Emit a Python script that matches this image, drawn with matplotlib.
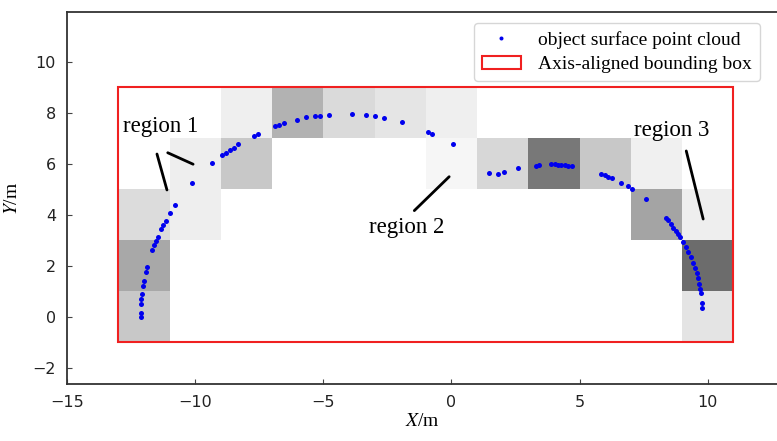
import numpy as np
import matplotlib
matplotlib.use('Agg')
import matplotlib.pyplot as plt
from matplotlib.patches import Rectangle

plt.rcParams['mathtext.fontset'] = 'stix'

# point cloud
pts_x = [-12.13, -12.13, -12.12, -12.10, -12.08, -12.03, -12.00, -11.92, -11.87,
         -11.67, -11.61, -11.54, -11.46, -11.33, -11.25, -11.15, -10.99, -10.80,
         -10.13, -9.36, -8.94, -8.78, -8.63, -8.48, -8.34, -7.71, -7.56, -6.89,
         -6.72, -6.55, -6.03, -5.69, -5.32, -5.14, -4.78, -3.88, -3.35, -2.98,
         -2.63, -1.92, -0.91, -0.75, 0.04,
         1.45, 1.80, 2.03, 2.59, 3.28, 3.41, 3.89, 4.03, 4.16, 4.29, 4.42, 4.55, 4.69,
         5.83, 5.99, 6.12, 6.27, 6.60, 6.90, 7.03, 7.60, 8.35, 8.44, 8.56, 8.65,
         8.75, 8.84, 8.91, 9.03, 9.14, 9.23, 9.33, 9.42, 9.50, 9.57, 9.62, 9.67,
         9.71, 9.74, 9.78, 9.79]
pts_y = [-0.01, 0.17, 0.52, 0.71, 0.89, 1.23, 1.42, 1.76, 1.95,
         2.63, 2.81, 2.98, 3.14, 3.46, 3.62, 3.78, 4.09, 4.40,
         5.27, 6.03, 6.35, 6.44, 6.55, 6.64, 6.77, 7.11, 7.19, 7.48,
         7.54, 7.60, 7.74, 7.83, 7.88, 7.89, 7.93, 7.95, 7.92, 7.87,
         7.82, 7.63, 7.27, 7.19, 6.77,
         5.65, 5.61, 5.69, 5.83, 5.93, 5.95, 5.99, 5.99, 5.97, 5.96, 5.95, 5.93, 5.91,
         5.62, 5.55, 5.50, 5.44, 5.27, 5.13, 5.03, 4.63, 3.90, 3.79, 3.64, 3.50,
         3.37, 3.24, 3.13, 2.93, 2.73, 2.54, 2.34, 2.13, 1.93, 1.74, 1.52, 1.29,
         1.09, 0.93, 0.54, 0.34]

# bounding box
box_xmin, box_xmax = -13, 11
box_ymin, box_ymax = -1, 9

# grid cell edges and gray levels (0-255, nan = empty cell), rows bottom -> top
cell_x = np.arange(-13, 12, 2)
cell_y = np.arange(-1, 10, 2)
n = np.nan
cell_gray = np.array([
    [200, n,   n,   n,   n,   n,   n,   n,   n,   n,   n,   228],
    [168, n,   n,   n,   n,   n,   n,   n,   n,   n,   n,   108],
    [220, 238, n,   n,   n,   n,   n,   n,   n,   n,   164, 238],
    [n,   238, 200, n,   n,   n,   246, 215, 120, 200, 240, n],
    [n,   n,   239, 178, 218, 229, 239, n,   n,   n,   n,   n],
])

# region labels and leader lines
labels = ['region 1', 'region 2', 'region 3']
label_xy = [(-11.35, 7.45), (-1.76, 3.49), (8.61, 7.33)]
leaders = [((-11.49, 6.39), (-11.10, 4.98)),
           ((-11.07, 6.44), (-10.08, 5.99)),
           ((-1.45, 4.17), (-0.09, 5.50)),
           ((9.16, 6.51), (9.82, 3.84))]

fig = plt.figure(figsize=(7.77, 4.41), dpi=100)
ax = fig.add_axes([67 / 777, 1 - 384 / 441, 710 / 777, 372 / 441])

ax.pcolormesh(cell_x, cell_y, np.ma.masked_invalid(cell_gray), cmap='gray',
              vmin=0, vmax=255, zorder=1)

box = ax.add_patch(Rectangle((box_xmin, box_ymin), box_xmax - box_xmin,
                             box_ymax - box_ymin, fill=False, edgecolor='#f02020',
                             lw=1.5, zorder=3, label='Axis-aligned bounding box'))

pts, = ax.plot(pts_x, pts_y, 'o', color='#0000ee', ms=3.6, mec='none', zorder=4,
               label='object surface point cloud')

for (x0, y0), (x1, y1) in leaders:
    ax.annotate('', xy=(x1, y1), xytext=(x0, y0),
                arrowprops=dict(arrowstyle='-', lw=2.0, color='black',
                                shrinkA=0, shrinkB=0), zorder=5)
for txt, (tx, ty) in zip(labels, label_xy):
    ax.text(tx, ty, txt, ha='center', va='center', fontsize=16.5,
            family='Liberation Serif', zorder=5)

ax.set_xlim(-15, 12.7)
ax.set_ylim(-2.63, 11.96)
ax.set_xticks([-15, -10, -5, 0, 5, 10])
ax.set_yticks([-2, 0, 2, 4, 6, 8, 10])
ax.tick_params(direction='in', length=3.5, width=0.8, labelsize=11.5, pad=8,
               color='#444444', labelcolor='#222222')
for s in ax.spines.values():
    s.set_color('#333333')
    s.set_linewidth(1.3)
ax.spines['right'].set_visible(False)

ax.set_xlabel('$X$/m', family='Liberation Serif', fontsize=14, labelpad=2)
ax.set_ylabel('$Y$/m', family='Liberation Serif', fontsize=14, labelpad=8)

leg = ax.legend(handles=[pts, box], loc='upper right', bbox_to_anchor=(0.976, 0.970),
                borderaxespad=0, prop={'family': 'Liberation Serif', 'size': 14},
                labelspacing=0.35, handletextpad=0.9, markerscale=0.8)
leg.get_frame().set_edgecolor('#cccccc')

fig.savefig('out.png', dpi=100)
